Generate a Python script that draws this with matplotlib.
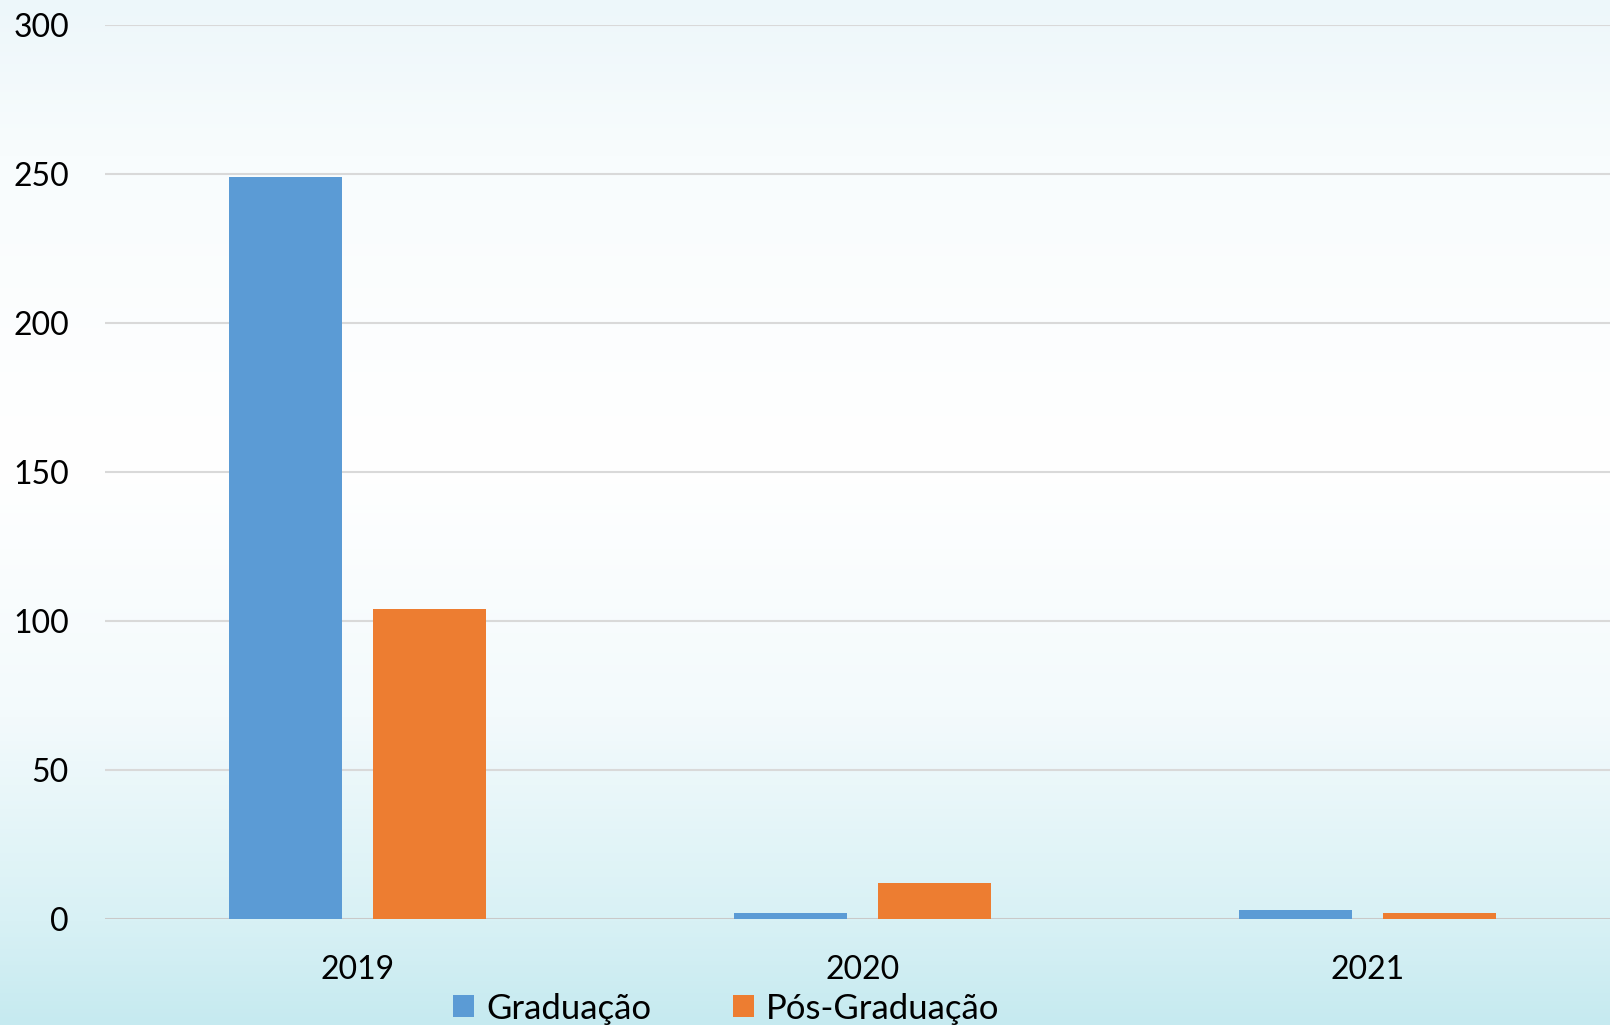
"""
Grouped bar chart: Graduação vs Pós-Graduação per year.
"""

import numpy as np
import matplotlib.pyplot as plt
from matplotlib.colors import LinearSegmentedColormap

years = ["2019", "2020", "2021"]
graduacao = [249, 2, 3]
pos_graduacao = [104, 12, 2]
series_names = ["Graduação", "Pós-Graduação"]
yticks = [0, 50, 100, 150, 200, 250, 300]

BLUE = "#5b9bd5"
ORANGE = "#ed7d31"

plt.rcParams['font.family'] = ['Lato', 'DejaVu Sans']

fig = plt.figure(figsize=(16.10, 10.25), dpi=100)

# soft gradient background like the slide
bg = fig.add_axes([0, 0, 1, 1], zorder=0)
grad = np.linspace(0, 1, 256).reshape(-1, 1)
cmap = LinearSegmentedColormap.from_list(
    "bg", [(0.0, "#c6eaf0"), (0.1, "#d8f1f5"), (0.3, "#f3fafc"), (0.55, "#ffffff"),
           (0.85, "#f8fcfd"), (1.0, "#edf7fa")])
bg.imshow(grad, aspect="auto", cmap=cmap, origin="lower", extent=[0, 1, 0, 1])
bg.set_axis_off()

ax = fig.add_axes([0.0652, 0.1034, 0.941, 0.8722], zorder=1)
ax.patch.set_alpha(0)

x = np.arange(len(years))
w = 0.224
off = 0.142
ax.bar(x - off, graduacao, w, color=BLUE, label=series_names[0], zorder=3)
ax.bar(x + off, pos_graduacao, w, color=ORANGE, label=series_names[1], zorder=3)

ax.set_xlim(-0.5, len(years) - 0.5)
ax.set_ylim(0, 300)
ax.set_yticks(yticks)
ax.set_xticks(x)
ax.set_xticklabels(years)
ax.grid(axis="y", color="#d9d9d9", linewidth=1.5, zorder=0)
ax.axhline(0, color="#c8c8c8", linewidth=2, zorder=2)
for s in ax.spines.values():
    s.set_visible(False)
ax.tick_params(axis="both", length=0, labelsize=23, colors="#000000")
ax.tick_params(axis="y", pad=26)
ax.tick_params(axis="x", pad=26)

fig.legend(loc="center", bbox_to_anchor=(0.451, 0.016), ncol=2, frameon=False,
           fontsize=25, handlelength=0.6, handleheight=0.6, handletextpad=0.35,
           columnspacing=2.35)

fig.savefig("out.png", dpi=100)
